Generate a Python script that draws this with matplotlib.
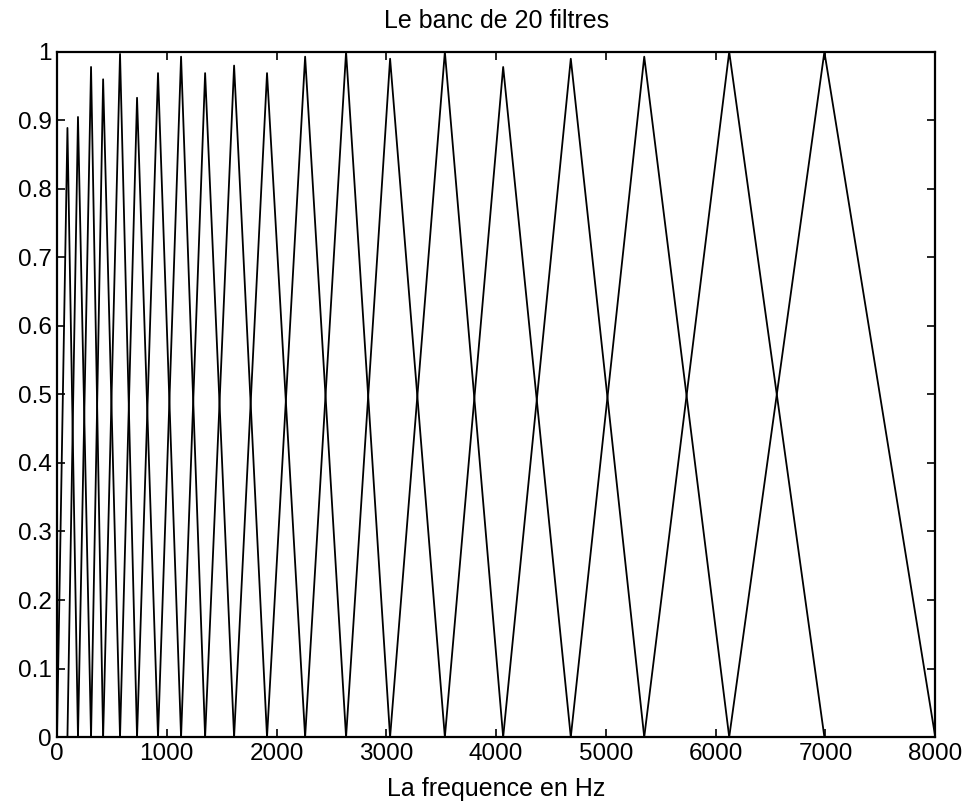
import matplotlib
matplotlib.use("Agg")
import matplotlib.pyplot as plt

# centre frequencies (Hz) of the 20 triangular filters
centres = [95, 191, 310, 420, 574, 729, 920, 1130, 1349, 1613,
           1913, 2260, 2633, 3034, 3533, 4064, 4680, 5349, 6123, 6990]
# peak height reached by each filter
peaks = [0.889, 0.905, 0.978, 0.96, 0.997, 0.933, 0.969, 0.993, 0.969, 0.98,
         0.969, 0.993, 1.0, 0.99, 1.0, 0.978, 0.99, 0.993, 1.0, 1.0]
f_min = 0
f_max = 8000

edges = [f_min] + centres + [f_max]

plt.rcParams['font.family'] = ['Liberation Sans', 'DejaVu Sans']

fig = plt.figure(figsize=(9.63, 8.07), dpi=100)
ax = fig.add_axes([0.0592, 0.0867, 0.912, 0.849])

for k in range(len(centres)):
    xs = [edges[k], edges[k + 1], edges[k + 2]]
    ys = [0, peaks[k], 0]
    ax.plot(xs, ys, color='black', linewidth=1.3)

ax.set_xlim(0, 8000)
ax.set_ylim(0, 1)
ax.set_xticks(range(0, 8001, 1000))
ax.set_yticks([i / 10 for i in range(11)])
ax.set_yticklabels(['0', '0.1', '0.2', '0.3', '0.4', '0.5', '0.6', '0.7', '0.8', '0.9', '1'])
ax.tick_params(direction='in', length=6, width=1.2, top=True, right=True,
               labelsize=17.5, pad=4)
for s in ax.spines.values():
    s.set_linewidth(1.6)

ax.set_title('Le banc de 20 filtres', fontsize=18, pad=17)
ax.set_xlabel('La frequence en Hz', fontsize=18, labelpad=9)

fig.savefig('out.png', dpi=100)
